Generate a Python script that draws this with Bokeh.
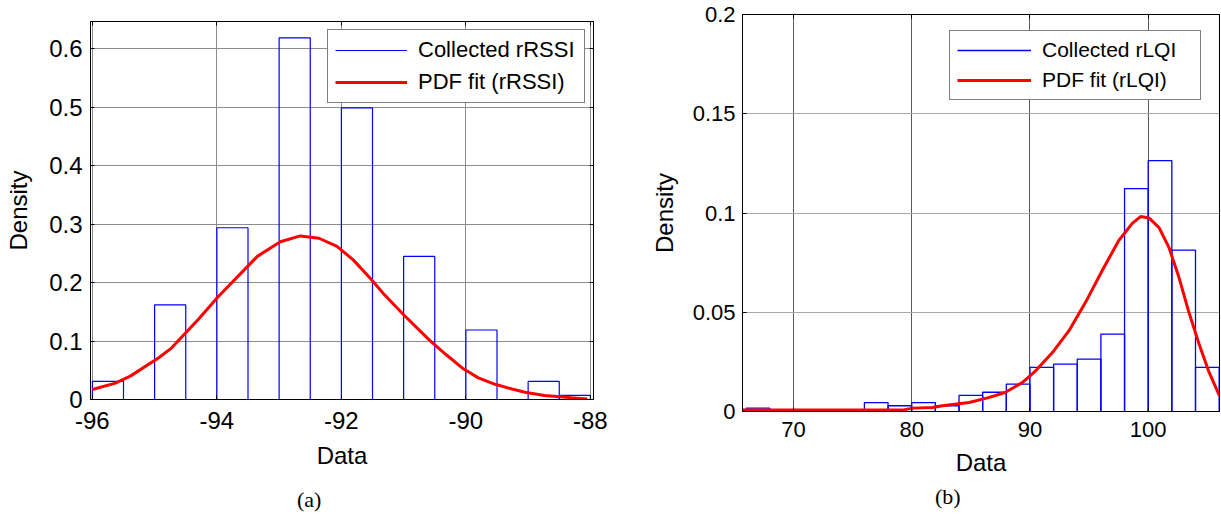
from bokeh.plotting import figure
from bokeh.models import Range1d, FixedTicker, LinearAxis, Legend, LegendItem, Div
from bokeh.layouts import row, column
from bokeh.embed import file_html
from bokeh.resources import INLINE

# ---------------- (a) rRSSI ----------------
rssi_bin_left = [-96.0, -95.0, -94.0, -93.0, -92.0, -91.0, -90.0, -89.0, -88.5]
rssi_bin_right = [-95.5, -94.5, -93.5, -92.5, -91.5, -90.5, -89.5, -88.5, -88.0]
rssi_density = [0.031, 0.162, 0.294, 0.619, 0.499, 0.245, 0.119, 0.031, 0.007]
rssi_fit_x = [-96.0, -95.63, -95.39, -94.94, -94.73, -94.30, -93.98, -93.35, -92.98,
              -92.66, -92.36, -92.07, -91.81, -91.54, -91.33, -91.0, -90.59, -90.32,
              -90.06, -89.80, -89.53, -89.26, -89.05, -88.74, -88.53, -88.31, -88.05]
rssi_fit_y = [0.017, 0.028, 0.040, 0.071, 0.088, 0.137, 0.176, 0.245, 0.270,
              0.280, 0.276, 0.262, 0.239, 0.208, 0.182, 0.145, 0.102, 0.077,
              0.054, 0.037, 0.026, 0.018, 0.0125, 0.007, 0.005, 0.003, 0.001]
rssi_xticks = [-96, -94, -92, -90, -88]
rssi_xtick_labels = ["-96", "-94", "-92", "-90", "-88"]
rssi_yticks = [0, 0.1, 0.2, 0.3, 0.4, 0.5, 0.6]
rssi_ytick_labels = ["0", "0.1", "0.2", "0.3", "0.4", "0.5", "0.6"]

# ---------------- (b) rLQI ----------------
lqi_bin_left = [66, 76, 78, 80, 82, 84, 86, 88, 90, 92, 94, 96, 98, 100, 102, 104]
lqi_bin_right = [68, 78, 80, 82, 84, 86, 88, 90, 92, 94, 96, 98, 100, 102, 104, 106]
lqi_density = [0.0017, 0.0045, 0.0029, 0.0045, 0.0029, 0.0081, 0.0097, 0.0138,
               0.0222, 0.0239, 0.0264, 0.039, 0.1123, 0.1264, 0.0813, 0.0222]
lqi_fit_x = [65.69, 79.2, 80.06, 81.75, 82.6, 84.85, 86.5, 87.9, 89.35, 90.48, 91.9,
             93.3, 94.7, 96.1, 97.5, 98.65, 99.35, 100.06, 100.9, 101.75, 102.6,
             103.4, 104.3, 105.1, 106.03]
lqi_fit_y = [0.0007, 0.0007, 0.0017, 0.002, 0.0029, 0.0045, 0.007, 0.0096, 0.0146,
             0.0205, 0.0297, 0.0407, 0.055, 0.0709, 0.086, 0.0948, 0.0982, 0.0975,
             0.0928, 0.0827, 0.0676, 0.0508, 0.034, 0.0205, 0.0079]
lqi_xticks = [70, 80, 90, 100]
lqi_xtick_labels = ["70", "80", "90", "100"]
lqi_yticks = [0, 0.05, 0.1, 0.15, 0.2]
lqi_ytick_labels = ["0", "0.05", "0.1", "0.15", "0.2"]

SANS = "Liberation Sans"
SERIF = "Liberation Serif"


def make_panel(width, height, borders, xr, yr, bin_l, bin_r, dens, fx, fy,
               xt, xtl, yt, ytl, labels, fs, grid_x, grid_y,
               bar_w, tick_standoff, ylab_standoff, xlab_standoff, legend_spec,
               extra_right):
    p = figure(width=width, height=height, output_backend="svg", toolbar_location=None,
               x_range=Range1d(*xr), y_range=Range1d(*yr),
               min_border_left=borders[0], min_border_right=borders[1],
               min_border_top=borders[2], min_border_bottom=borders[3])
    p.background_fill_color = "white"
    p.border_fill_color = "white"
    p.outline_line_color = "black"
    p.outline_line_width = 1

    xs = [[l, l, r, r] for l, r in zip(bin_l, bin_r)]
    ys = [[0, h, h, 0] for h in dens]
    bars = p.multi_line(xs, ys, line_color="#0000ff", line_width=bar_w)
    fit = p.line(fx, fy, line_color="#ff0000", line_width=3)

    tfs, lfs = fs
    p.xaxis.ticker = FixedTicker(ticks=xt)
    p.xaxis.major_label_overrides = dict(zip(xt, xtl))
    p.yaxis.ticker = FixedTicker(ticks=yt)
    p.yaxis.major_label_overrides = dict(zip(yt, ytl))
    for ax in (p.xaxis[0], p.yaxis[0]):
        ax.axis_line_color = "black"
        ax.major_tick_line_color = "black"
        ax.major_tick_in = 4
        ax.major_tick_out = 0
        ax.minor_tick_line_color = None
        ax.major_label_text_font = SANS
        ax.major_label_text_font_size = tfs
        ax.major_label_text_color = "black"
        ax.axis_label_text_font = SANS
        ax.axis_label_text_font_size = lfs
        ax.axis_label_text_font_style = "normal"
        ax.axis_label_text_color = "black"
    p.xaxis.axis_label = "Data"
    p.yaxis.axis_label = "Density"
    p.xaxis.major_label_standoff = tick_standoff[0]
    p.yaxis.major_label_standoff = tick_standoff[1]
    p.xaxis.axis_label_standoff = xlab_standoff
    p.yaxis.axis_label_standoff = ylab_standoff

    p.xgrid.ticker = FixedTicker(ticks=xt)
    p.ygrid.ticker = FixedTicker(ticks=yt)
    p.xgrid.grid_line_color = grid_x
    p.ygrid.grid_line_color = grid_y
    p.xgrid.grid_line_width = 1
    p.ygrid.grid_line_width = 1

    # tick marks only (no labels) on the top / right edges of the box
    sides = ["above"] + (["right"] if extra_right else [])
    for side in sides:
        ticks = xt if side == "above" else yt
        ax = LinearAxis(ticker=FixedTicker(ticks=ticks), major_label_text_font_size="0px",
                        major_label_text_color=None,
                        major_tick_in=4, major_tick_out=0, minor_tick_line_color=None,
                        axis_line_color="black", major_label_standoff=0, axis_label=None)
        p.add_layout(ax, side)

    loc, pad, gw, gh, lstand, lw, lh, sp, lfs2 = legend_spec
    legend = Legend(items=[LegendItem(label=labels[0], renderers=[bars]),
                           LegendItem(label=labels[1], renderers=[fit])],
                    location=loc, margin=0, padding=pad, glyph_width=gw, glyph_height=gh,
                    label_standoff=lstand, label_width=lw, label_height=lh, spacing=sp,
                    label_text_font=SANS, label_text_font_size=lfs2,
                    label_text_color="black",
                    border_line_color="black", border_line_width=1,
                    background_fill_color="white", background_fill_alpha=1.0)
    p.add_layout(legend, "center")
    return p


def caption(text, left, top):
    return Div(text=text, width=40, height=26, margin=(top, 0, 0, left),
               styles={"font-family": SERIF, "font-size": "22px", "line-height": "24px",
                       "color": "black", "white-space": "nowrap"})


pa = make_panel(610, 480, (90, 17, 21, 81), (-96.03, -87.95), (0, 0.647),
                rssi_bin_left, rssi_bin_right, rssi_density, rssi_fit_x, rssi_fit_y,
                rssi_xticks, rssi_xtick_labels, rssi_yticks, rssi_ytick_labels,
                ("Collected rRSSI", "PDF fit (rRSSI)"), ("24px", "24px"),
                "#8c8c8c", "#8c8c8c", 1.2, (12, 8), 14, 10,
                ((237, 296), 7, 72, 22, 11, 159, 22, 6, "22px"), True)

pb = make_panel(611, 480, (132, 2, 14, 69), (65.69, 106.03), (0, 0.2),
                lqi_bin_left, lqi_bin_right, lqi_density, lqi_fit_x, lqi_fit_y,
                lqi_xticks, lqi_xtick_labels, lqi_yticks, lqi_ytick_labels,
                ("Collected rLQI", "PDF fit (rLQI)"), ("22px", "24px"),
                "#5a5a5a", "#a8a8a8", 1.3, (10, 7), 12, 9,
                ((207, 311), 7, 74, 22, 11, 151, 22, 6, "21px"), False)

cap_a = caption("(a)", 297, 8)
cap_b = caption("(b)", 325, 5)

layout = row(column(pa, cap_a, spacing=0), column(pb, cap_b, spacing=0), spacing=0)
open("out.html", "w").write(file_html(layout, INLINE))
